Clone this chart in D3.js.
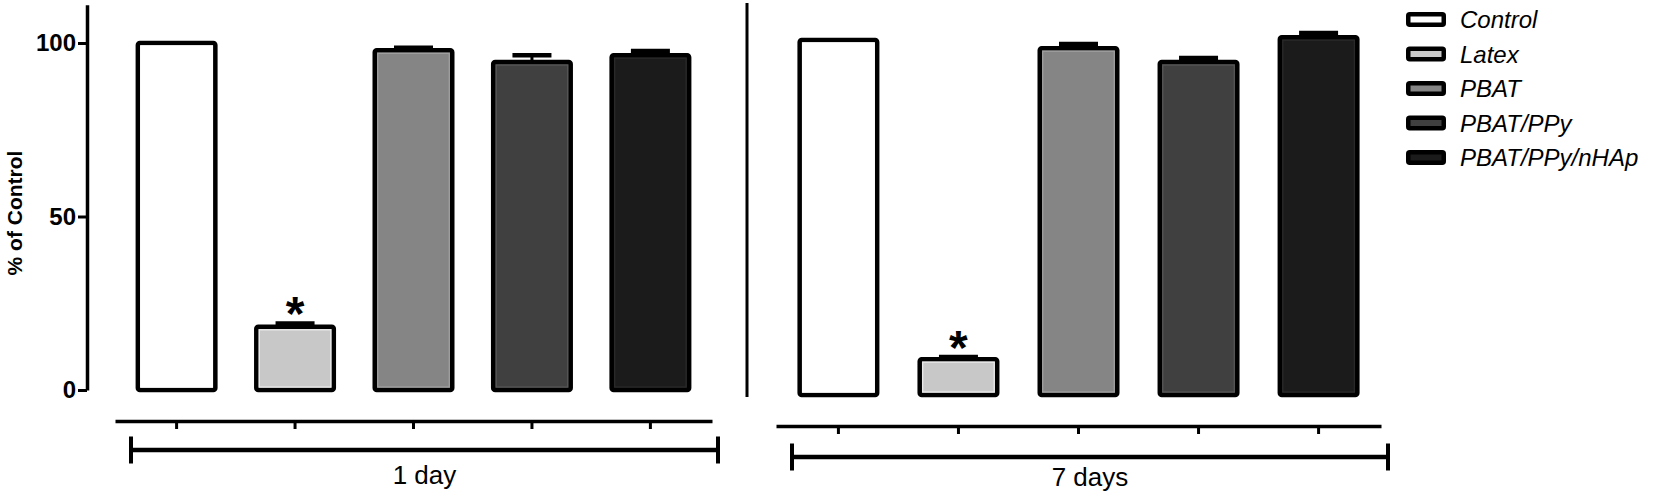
<!DOCTYPE html>
<html>
<head>
<meta charset="utf-8">
<script src="https://cdn.jsdelivr.net/npm/d3@7"></script>
<style>
  html, body { margin: 0; padding: 0; background: #fff; }
  svg { display: block; font-family: "Liberation Sans", Arial, sans-serif; }
</style>
</head>
<body>
<svg id="chart" width="1654" height="495"></svg>
<script>
// ---- data ----
const categories = ["Control", "Latex", "PBAT", "PBAT/PPy", "PBAT/PPy/nHAp"];
const fills = ["#ffffff", "#c8c8c8", "#858585", "#404040", "#1b1b1b"];
const innerEdges = ["#ffffff", "#ececec", "#a2a2a2", "#575757", "#2b2b2b"];
const day1Values = [100, 18.2, 97.9, 94.5, 96.5];
const day1Errors = [0, 1.0, 0.7, 2.0, 1.2];
const day7Values = [100, 10.1, 97.7, 93.8, 100.8];
const day7Errors = [0, 0.6, 1.2, 1.1, 1.2];
const significant = [false, true, false, false, false];
const groupLabels = ["1 day", "7 days"];
const yTicks = [0, 50, 100];
const yLabel = "% of Control";

const svg = d3.select("#chart");

// ---- scales ----
const yL = d3.scaleLinear().domain([0, 111]).range([390, 4.83]);
const yR = d3.scaleLinear().domain([0, 100]).range([395, 40]);

const xL = d3.scaleBand().domain(categories).range([115, 712]).paddingInner(0).paddingOuter(0.02);
const xR = d3.scaleBand().domain(categories).range([776, 1381]).paddingInner(0).paddingOuter(0.02);

const barW = 77.5;
const capW = 39;
const starSize = 48;

function drawPanel(x, y, values, errors, axisY, label, bracket) {
  const g = svg.append("g");
  const data = categories.map((c, i) => ({ c, i, v: values[i], e: errors[i] }));
  const cx = d => x(d.c) + x.bandwidth() / 2;

  // bars
  g.selectAll("rect.bar").data(data).enter().append("rect")
    .attr("class", "bar")
    .attr("x", d => cx(d) - barW / 2)
    .attr("y", d => y(d.v))
    .attr("width", barW)
    .attr("height", d => y(0) - y(d.v))
    .attr("rx", 2)
    .attr("fill", d => fills[d.i])
    .attr("stroke", "#000")
    .attr("stroke-width", 4.5)
    .attr("stroke-linejoin", "round");

  // subtle inner edge (rendering artefact in original)
  g.selectAll("rect.inner").data(data).enter().append("rect")
    .attr("x", d => cx(d) - barW / 2 + 3)
    .attr("y", d => y(d.v) + 3)
    .attr("width", barW - 6)
    .attr("height", d => Math.max(0, y(0) - y(d.v) - 6))
    .attr("fill", "none")
    .attr("stroke", d => innerEdges[d.i])
    .attr("stroke-width", 1.2);

  // error bars
  const err = data.filter(d => d.e > 0);
  g.selectAll("line.stem").data(err).enter().append("line")
    .attr("x1", cx).attr("x2", cx)
    .attr("y1", d => y(d.v)).attr("y2", d => y(d.v + d.e))
    .attr("stroke", "#000").attr("stroke-width", 3);
  g.selectAll("line.cap").data(err).enter().append("line")
    .attr("x1", d => cx(d) - capW / 2).attr("x2", d => cx(d) + capW / 2)
    .attr("y1", d => y(d.v + d.e)).attr("y2", d => y(d.v + d.e))
    .attr("stroke", "#000").attr("stroke-width", 4.5);

  // significance asterisks
  g.selectAll("text.star").data(data.filter(d => significant[d.i])).enter().append("text")
    .attr("x", cx)
    .attr("y", d => y(d.v + d.e) - 21 + 0.575 * starSize)
    .attr("text-anchor", "middle")
    .attr("font-size", starSize)
    .attr("font-weight", "bold")
    .text("*");

  // bottom category axis
  const ax = g.append("g")
    .attr("transform", `translate(0,${axisY})`)
    .call(d3.axisBottom(x).tickSize(8).tickSizeOuter(0).tickFormat(""));
  ax.select(".domain").attr("stroke-width", 3.5);
  ax.selectAll(".tick line").attr("stroke-width", 3);

  // group bracket
  const b = bracket;
  g.append("line").attr("x1", b.x0).attr("x2", b.x1).attr("y1", b.y).attr("y2", b.y)
    .attr("stroke", "#000").attr("stroke-width", 4.5);
  [b.x0, b.x1].forEach(xx => {
    g.append("line").attr("x1", xx).attr("x2", xx).attr("y1", b.y - 13.5).attr("y2", b.y + 13.5)
      .attr("stroke", "#000").attr("stroke-width", 4);
  });
  g.append("text")
    .attr("x", (b.x0 + b.x1) / 2)
    .attr("y", b.ty)
    .attr("text-anchor", "middle")
    .attr("font-size", 26)
    .text(label);
}

drawPanel(xL, yL, day1Values, day1Errors, 421, groupLabels[0], { x0: 131, x1: 718, y: 450, ty: 484 });
drawPanel(xR, yR, day7Values, day7Errors, 426, groupLabels[1], { x0: 792, x1: 1388, y: 457, ty: 486 });

// left y axis
const yAxis = svg.append("g")
  .attr("transform", "translate(87,0)")
  .call(d3.axisLeft(yL).tickValues(yTicks).tickSize(9).tickPadding(2).tickSizeOuter(0));
yAxis.select(".domain").attr("stroke-width", 3.5);
yAxis.selectAll(".tick line").attr("stroke-width", 3);
yAxis.selectAll(".tick text")
  .attr("font-size", 24)
  .attr("font-weight", "bold")
  .attr("font-family", "Liberation Sans, Arial, sans-serif")
  .attr("fill", "#000");

svg.append("text")
  .attr("transform", "translate(22,213) rotate(-90)")
  .attr("text-anchor", "middle")
  .attr("font-size", 21)
  .attr("font-weight", "bold")
  .text(yLabel);

// divider between panels
svg.append("line")
  .attr("x1", 747).attr("x2", 747)
  .attr("y1", 3).attr("y2", yR(0) + 2)
  .attr("stroke", "#000").attr("stroke-width", 3);

// legend
const legend = svg.append("g");
const rowY = d3.scalePoint().domain(categories).range([19.5, 157.5]);
categories.forEach((c, i) => {
  legend.append("rect")
    .attr("x", 1408.25)
    .attr("y", rowY(c) - 5.25)
    .attr("width", 35.5)
    .attr("height", 10.5)
    .attr("rx", 1.5)
    .attr("fill", fills[i])
    .attr("stroke", "#000")
    .attr("stroke-width", 4.5)
    .attr("stroke-linejoin", "round");
  legend.append("text")
    .attr("x", 1460)
    .attr("y", rowY(c))
    .attr("dy", "0.36em")
    .attr("font-size", 24)
    .attr("font-style", "italic")
    .text(c);
});
</script>
</body>
</html>
